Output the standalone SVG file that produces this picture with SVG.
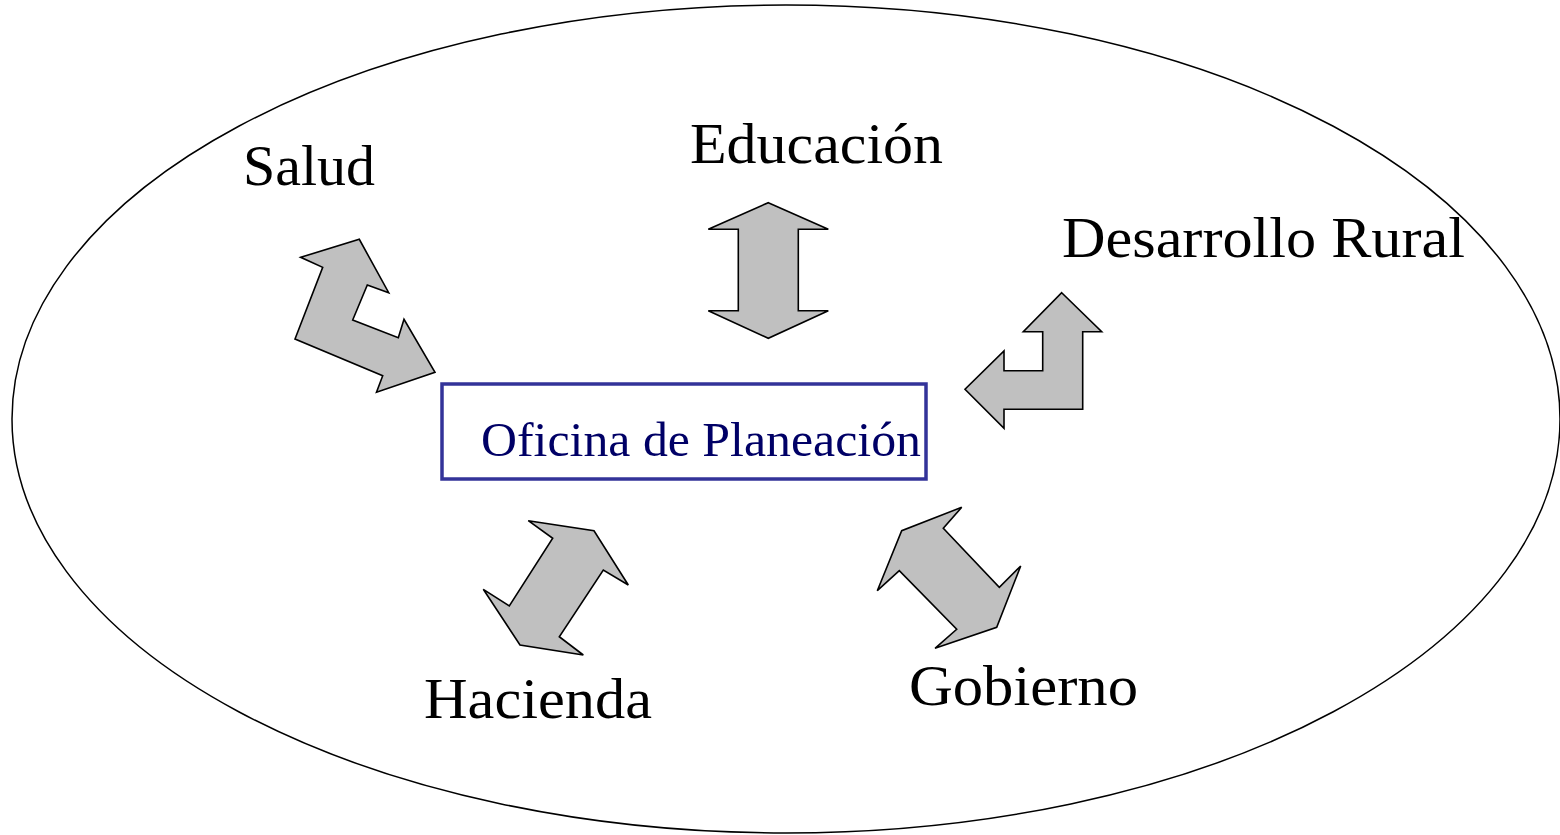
<svg xmlns="http://www.w3.org/2000/svg" width="1560" height="835" viewBox="0 0 1560 835">
<style>
.lbl{font-family:"Liberation Serif","Times New Roman",serif;font-size:56px;fill:#000}
.arr{fill:#c0c0c0;stroke:#000;stroke-width:1.6;stroke-linejoin:miter}
.box{fill:#fff;stroke:#333399;stroke-width:3.5}
.ctr{font-family:"Liberation Serif","Times New Roman",serif;font-size:49px;fill:#000066}
</style>
<rect width="1560" height="835" fill="#fff"/>
<g id="boundary">
<ellipse cx="786" cy="419" rx="774" ry="414" fill="none" stroke="#000" stroke-width="1.5"/>
</g>
<g id="center">
<rect class="box" x="442" y="384" width="484" height="95"/>
<text class="ctr" x="481" y="456" textLength="440" lengthAdjust="spacingAndGlyphs">Oficina de Planeación</text>
</g>
<g id="salud"><text class="lbl" x="243" y="185" textLength="132" lengthAdjust="spacingAndGlyphs">Salud</text></g>
<g id="educacion"><text class="lbl" x="690" y="163" textLength="253" lengthAdjust="spacingAndGlyphs">Educación</text></g>
<g id="desarrollo"><text class="lbl" x="1062" y="257" textLength="403" lengthAdjust="spacingAndGlyphs">Desarrollo Rural</text></g>
<g id="hacienda"><text class="lbl" x="424" y="718" textLength="228" lengthAdjust="spacingAndGlyphs">Hacienda</text></g>
<g id="gobierno"><text class="lbl" x="909" y="705" textLength="229" lengthAdjust="spacingAndGlyphs">Gobierno</text></g>
<g id="connectors">
<polygon class="arr" points="300.7,257.3 359.3,239.3 388.7,292.7 367.3,285 352.7,320 398.3,337.7 404,319.3 435,372.3 376.5,392.3 382.7,375.7 295,339 322.7,267.3"/>
<polygon class="arr" points="768.3,202.7 828.3,229.3 798.3,229.3 798.3,310.7 828.3,310.7 768.3,338.3 708.3,310.7 738.3,310.7 738.3,229.3 708.3,229.3"/>
<polygon class="arr" points="1061.7,292.7 1101.7,331.7 1082.7,331.7 1082.7,409.3 1004,409.3 1004,428.3 965,389.3 1004,351 1004,370.7 1042.7,370.7 1042.7,331.7 1023.3,331.7"/>
<polygon class="arr" points="528.3,520.7 594,530.7 628.3,585 603.3,570 559.3,636.7 583.3,655 520,645 483.3,589.3 509.3,606 552.7,538.3"/>
<polygon class="arr" points="961.7,507.3 943.3,528.3 999.3,587.3 1020.7,566 996.7,627.3 935,648.3 956.7,629.3 899.3,570.7 877.3,590.7 901.7,530.7"/>
</g>
</svg>
